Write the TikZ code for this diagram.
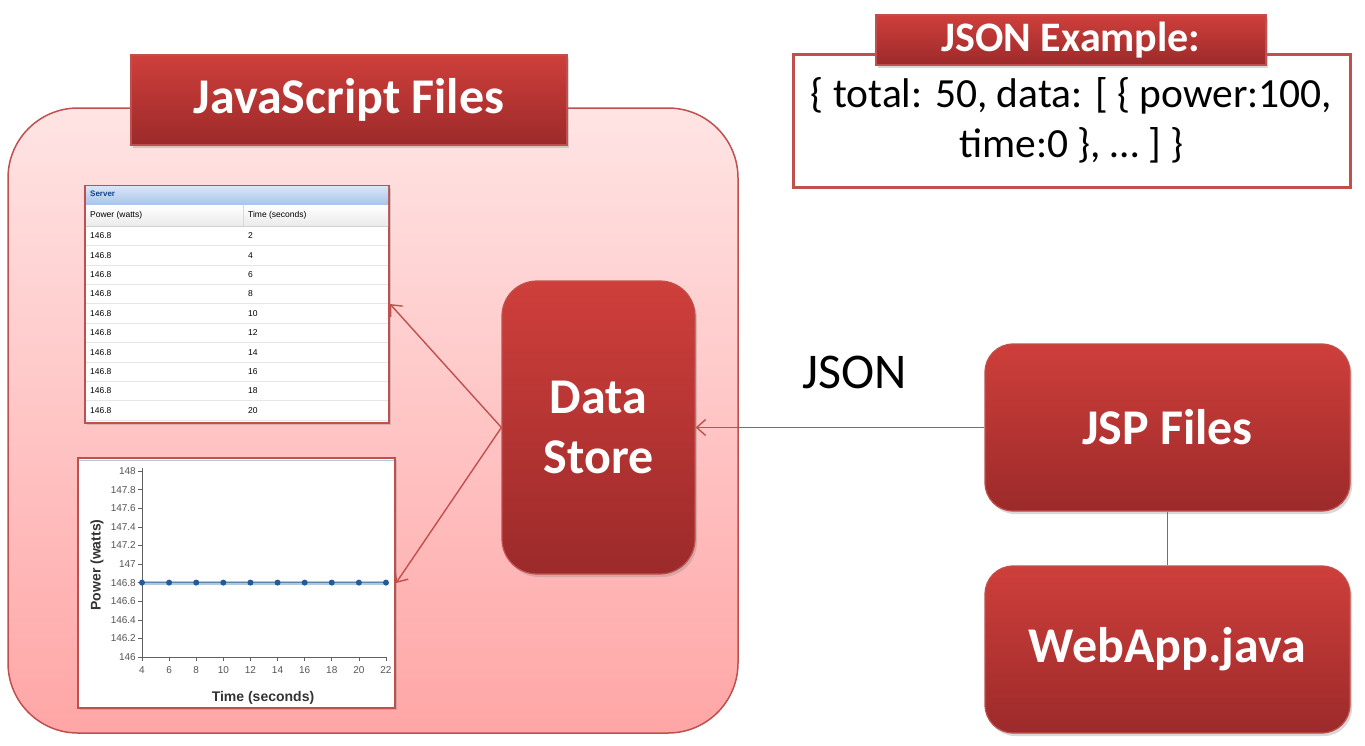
\documentclass[tikz,border=0pt]{standalone}
\usepackage{fontspec}
\setmainfont{Carlito}
\newfontfamily\arialf{Liberation Sans}
\usetikzlibrary{arrows.meta,shadows}
\definecolor{redtop}{HTML}{CE3F3B}
\definecolor{redbot}{HTML}{9C2A2A}
\definecolor{redline}{HTML}{C0504D}
\definecolor{pinktop}{HTML}{FFE4E4}
\definecolor{pinkbot}{HTML}{FFA6A6}
\definecolor{axisgray}{HTML}{606060}
\definecolor{ticktext}{HTML}{555555}
\definecolor{dotblue}{HTML}{1F5C99}
\definecolor{lineblue}{HTML}{5A86AE}
\definecolor{haloblue}{HTML}{B4C8DC}
\definecolor{hdrtop}{HTML}{D9E6F8}
\definecolor{hdrbot}{HTML}{A7C3EA}
\definecolor{srvtext}{HTML}{15428B}
\definecolor{sepgray}{HTML}{E6E6E6}
\tikzset{
  redbox/.style={draw=redline, line width=1.2pt, top color=redtop, bottom color=redbot,
    text=white, align=center, inner sep=0pt,
    drop shadow={opacity=0.3,shadow xshift=2pt,shadow yshift=-3pt}},
  bigfont/.style={font=\bfseries\fontsize{50}{60}\selectfont},
  shot/.style={draw=redline, line width=2pt, fill=white, inner sep=0pt,
    drop shadow={opacity=0.3,shadow xshift=2pt,shadow yshift=-2pt}},
  conn/.style={draw=redline, line width=1.4pt, -{Straight Barb[length=9pt,width=16pt]}},
  plain/.style={draw=redline, line width=1.4pt},
  cell/.style={font=\arialf\fontsize{8.5}{10}\selectfont, anchor=west, inner sep=0pt},
  tick/.style={font=\arialf\fontsize{10}{12}\selectfont, text=ticktext, inner sep=1pt}
}
\begin{document}
\begin{tikzpicture}[x=1pt,y=-1pt]
\useasboundingbox (0,0) rectangle (1365,745);
\fill[white] (0,0) rectangle (1365,745);

% outer JavaScript container
\node[draw=redline, line width=1.5pt, rounded corners=70pt, top color=pinktop, bottom color=pinkbot,
  minimum width=730pt, minimum height=625pt, inner sep=0pt] (outer) at (373,420.5) {};
\node[redbox, rounded corners=0pt, minimum width=436pt, minimum height=90pt,
  font=\bfseries\fontsize{50}{60}\selectfont] (jsbanner) at (349,100) {JavaScript Files};

% table screenshot
\node[shot, minimum width=304pt, minimum height=237pt] (table) at (237,304) {};
\shade[top color=hdrtop, bottom color=hdrbot] (86,186) rectangle (388,205);
\node[font=\arialf\bfseries\fontsize{8}{9}\selectfont, text=srvtext, anchor=west, inner sep=0pt] (srv) at (90,194) {Server};
\shade[top color=white, bottom color=black!8] (86,205) rectangle (388,226);
\draw[black!15] (243,205) -- (243,226);
\draw[black!18] (86,226) -- (388,226);
\node[cell] (h1) at (90,215.5) {Power (watts)};
\node[cell] (h2) at (248,215.5) {Time (seconds)};
\foreach \i [evaluate=\i as \yy using {226+19.4*(\i+0.5)},
             evaluate=\i as \yl using {226+19.4*(\i+1)},
             evaluate=\i as \tv using {int(2*(\i+1))}] in {0,...,9} {
  \node[cell] (p\i) at (90,\yy) {146.8};
  \node[cell] (t\i) at (248,\yy) {\tv};
  \draw[sepgray] (86,\yl) -- (388,\yl);
}

% chart screenshot
\node[shot, minimum width=317pt, minimum height=250pt] (chart) at (236.5,583) {};
\draw[haloblue, line width=1pt] (79,460) -- (394,460);
\draw[axisgray, line width=0.8pt] (142,468) -- (142,657) -- (386,657);
\foreach \lab [count=\k from 0, evaluate=\k as \ty using {657-\k*18.6}] in
  {146,146.2,146.4,146.6,146.8,147,147.2,147.4,147.6,147.8,148} {
  \draw[axisgray, line width=0.6pt] (138,\ty) -- (142,\ty);
  \node[tick, anchor=east] (yl\k) at (137,\ty) {\lab};
}
\foreach \xv [count=\k from 0, evaluate=\k as \tx using {142+\k*27.11}] in {4,6,...,22} {
  \draw[axisgray, line width=0.6pt] (\tx,657) -- (\tx,661);
  \node[tick, anchor=north] (xl\k) at (\tx,665) {\xv};
}
\draw[haloblue, line width=4pt] (142,582.6) -- (386,582.6);
\draw[lineblue, line width=1.2pt] (142,582.6) -- (386,582.6);
\foreach \k in {0,...,9} {
  \fill[dotblue] ({142+\k*27.11},582.6) circle (3pt);
}
\node[font=\arialf\bfseries\fontsize{14}{16}\selectfont, text=black!80] (xt) at (263,698) {Time (seconds)};
\node[font=\arialf\bfseries\fontsize{14}{16}\selectfont, text=black!80, rotate=90] (yt) at (97,565) {Power (watts)};

% Data Store and server side
\node[redbox, rounded corners=35pt, minimum width=193pt, minimum height=293pt, bigfont] (ds) at (598.5,427.5) {Data\\Store};
\node[redbox, rounded corners=28pt, minimum width=365pt, minimum height=167pt, bigfont] (jsp) at (1167.5,427.5) {JSP Files};
\node[redbox, rounded corners=28pt, minimum width=365pt, minimum height=167pt, bigfont] (webapp) at (1167.5,649.5) {WebApp.java};
\node[font=\fontsize{50}{60}\selectfont] (jsonlbl) at (855,372) {JSON};

% JSON example
\node[draw=redline, line width=3pt, fill=white, minimum width=557pt, minimum height=133pt,
  align=center, inner sep=0pt, font=\fontsize{41.5}{50}\selectfont] (jsonbox) at (1071.5,120.5)
  {\{ total: 50, data: [ \{ power:100,\\ time:0 \}, … ] \}};
\node[redbox, minimum width=390pt, minimum height=50pt, font=\bfseries\fontsize{42}{46}\selectfont] (jsonbanner) at (1071,40) {JSON Example:};

% connectors
\draw[conn] (ds.west) -- (table.east);
\draw[conn] (ds.west) -- (chart.east);
\draw[conn] (jsp.west) -- (ds.east);
\draw[plain] (jsp.south) -- (webapp.north);
\end{tikzpicture}
\end{document}
